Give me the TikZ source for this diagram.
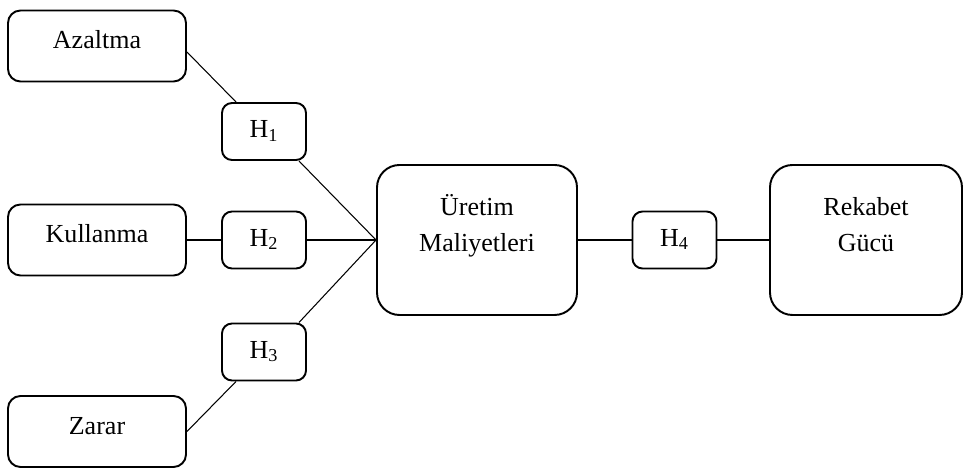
\documentclass[tikz,border=0pt]{standalone}
\usepackage{fontspec}
\setmainfont{Liberation Serif}
\usepackage{tikz}
\usetikzlibrary{positioning}

\begin{document}
\begin{tikzpicture}[
    font=\fontsize{14.8pt}{20.5pt}\selectfont,
    srcbox/.style={draw, rectangle, rounded corners=0.25cm, line width=1.1pt,
                   minimum width=3.56cm, minimum height=1.42cm,
                   text height=0.7em, text depth=0.4em},
    hypbox/.style={draw, rectangle, rounded corners=0.2cm, line width=1.1pt,
                   minimum width=1.68cm, minimum height=1.14cm,
                   text height=0.7em, text depth=0pt},
    bigbox/.style={draw, rectangle, rounded corners=0.45cm, line width=1.1pt,
                   minimum height=3cm, align=center,
                   text height=0.72cm, text depth=0.24cm},
    link/.style={line width=0.6pt},
]

\useasboundingbox (0,0) rectangle (19.26,9.36);

% Factors on the left
\node[srcbox] (az)  at (1.94, 8.44) {Azaltma};
\node[srcbox] (kul) at (1.94, 4.56) {Kullanma};
\node[srcbox] (zar) at (1.94, 0.73) {Zarar};

% Hypotheses
\node[hypbox] (h1) at (5.28, 6.73) {H\textsubscript{1}};
\node[hypbox] (h2) at (5.28, 4.56) {H\textsubscript{2}};
\node[hypbox] (h3) at (5.28, 2.32) {H\textsubscript{3}};
\node[hypbox] (h4) at (13.49, 4.56) {H\textsubscript{4}};

% Outcomes
\node[bigbox, minimum width=4cm] (uretim) at (9.54, 4.56) {Üretim\\Maliyetleri};
\node[bigbox, minimum width=3.84cm] (rek) at (17.32, 4.56) {Rekabet\\Gücü};

% Connectors
\draw[link] ([yshift=-0.12cm]az.east) -- ([xshift=0.3cm]h1.north west);
\draw[link] ([xshift=-0.16cm]h1.south east) -- (uretim.west);
\draw[link] ([xshift=-0.16cm]h3.north east) -- (uretim.west);
\draw[link] ([xshift=0.3cm]h3.south west) -- (zar.east);
\foreach \a/\b in {kul/h2, h2/uretim, uretim/h4, h4/rek} {
  \draw[link] (\a) -- (\b);
}

\end{tikzpicture}
\end{document}
